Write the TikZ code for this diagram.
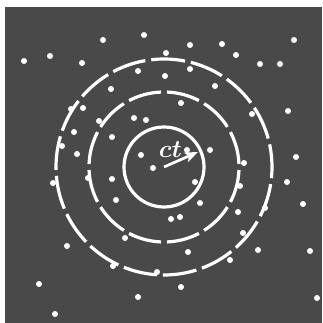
\documentclass[tikz,border=0pt]{standalone}
\usepackage{bm}
\usetikzlibrary{arrows.meta}
\definecolor{bg}{RGB}{73,73,73}
\begin{document}
\begin{tikzpicture}[x=1pt,y=-1pt,
  dotw/.style={fill=white,draw=none},
  ring/.style={draw=white,line width=3.2pt},
  outerring/.style={ring,dash pattern=on 33.92pt off 6pt,dash phase=22.8pt},
  midring/.style={ring,dash pattern=on 33.27pt off 6pt,dash phase=36.27pt},
  lblstyle/.style={text=white,inner sep=0pt,font=\fontsize{24.88}{25}\selectfont\boldmath}]
\useasboundingbox (0,0) rectangle (322,323);
\fill[white] (0,0) rectangle (322,323);
\fill[bg] (5,7) rectangle (322,323);
\coordinate (c) at (164,167);
\coordinate (tip) at (198,152);
\draw[ring] (c) circle[radius=40];
\draw[midring] (c) circle[radius=75];
\draw[outerring] (c) circle[radius=108];
\foreach \x/\y in {24/61,50/56,82/63,103/40,144/35,138/71,111/89,83/108,71/109,99/121,134/118,146/120,74/132,112/137,62/146,77/154,141/155,166/53,190/45,222/44,236/55,260/64,280/64,294/40,190/69,165/76,215/86,181/103,252/114,288/111,187/150,210/150,296/157,53/183,88/178,112/179,116/200,153/168,125/238,67/246,113/266,157/272,39/284,138/297,55/314,244/163,195/182,240/186,287/182,200/203,238/212,303/204,265/208,171/219,180/217,243/233,188/252,258/250,310/251,230/260,181/287,317/298}
  {\fill[dotw] (\x,\y) circle[radius=3];}
\draw[white,line width=2.7pt,-{Stealth[length=13pt,width=10pt,inset=3pt]}] (c) -- (tip);
\node[lblstyle] (lbl) at (170.5,150) {$\bm{ct}$};
\end{tikzpicture}
\end{document}
